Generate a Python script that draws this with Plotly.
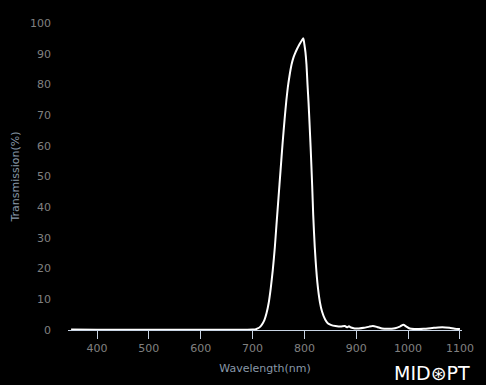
import plotly.graph_objects as go

wavelength = [350, 400, 450, 500, 550, 600, 650, 690, 700, 705, 710, 715, 720, 723, 727, 731, 735, 739,
              743, 746, 750, 754, 758, 762, 765, 768, 771, 775, 779, 782, 786, 789, 792, 795, 798,
              800, 802, 804, 806, 808, 810, 812, 815, 817, 820, 825, 830, 834, 840, 845, 852, 860,
              870, 878, 882, 886, 890, 897, 905, 915, 925, 932, 940, 950, 960, 975, 985, 991, 996,
              1003, 1012, 1030, 1050, 1066, 1080, 1090, 1100]
transmission = [0.2, 0.1, 0.1, 0.1, 0.1, 0.1, 0.1, 0.1, 0.15, 0.2, 0.5, 1.1, 2.3, 3.3, 5.5, 8.7, 13.5, 19.5,
                27, 34, 43, 52, 61, 69, 74.5, 79, 82.5, 86.3, 88.8, 90.1, 91.6, 92.6, 93.5, 94.3, 95,
                93, 90.5, 86.5, 80, 74, 67, 59.6, 47, 37.5, 27, 15.5, 9, 6, 3.4, 2.2, 1.6, 1.3,
                1.1, 1.3, 0.9, 1.2, 0.8, 0.5, 0.5, 0.7, 1.1, 1.3, 1.0, 0.5, 0.4, 0.6, 1.2, 1.7, 1.2,
                0.5, 0.3, 0.4, 0.7, 0.9, 0.7, 0.4, 0.3]

x_ticks = [400, 500, 600, 700, 800, 900, 1000, 1100]
y_ticks = [0, 10, 20, 30, 40, 50, 60, 70, 80, 90, 100]

fig = go.Figure()
fig.add_trace(go.Scatter(x=wavelength, y=transmission, mode="lines",
                         line=dict(color="white", width=2, shape="spline", smoothing=0.6),
                         hoverinfo="skip", showlegend=False))

font_family = "DejaVu Sans"
fig.update_layout(
    width=486, height=385,
    paper_bgcolor="black", plot_bgcolor="black",
    margin=dict(l=68, r=21, t=23, b=55),
    font=dict(family=font_family, size=11, color="#808080"),
    xaxis=dict(range=[344, 1104], tickvals=x_ticks, showgrid=False, zeroline=False,
               showline=True, linecolor="#c8d4e4", linewidth=1,
               ticks="outside", ticklen=8, tickcolor="#c8d4e4", tickwidth=1,
               tickfont=dict(size=11, color="#808080"),
               title=dict(text="Wavelength(nm)", font=dict(size=11, color="#8898a8"), standoff=10)),
    yaxis=dict(range=[0, 100], tickvals=y_ticks, showgrid=False, zeroline=False,
               showline=False, ticks="", ticklabelstandoff=16,
               tickfont=dict(size=11, color="#808080"),
               title=dict(text="Transmission(%)", font=dict(size=11, color="#8898a8"), standoff=8)),
)
fig.add_annotation(text="MID⊛PT", xref="paper", yref="paper", x=1.025, y=-0.14,
                   xanchor="right", yanchor="middle", showarrow=False,
                   font=dict(family="DejaVu Sans", size=19, color="white"))
fig.write_html("out.html")
